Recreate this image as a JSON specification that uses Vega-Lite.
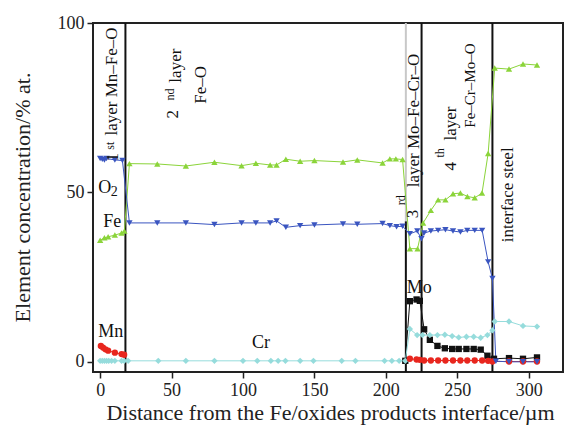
{
  "$schema": "https://vega.github.io/schema/vega-lite/v6.json",
  "width": 470,
  "height": 349,
  "autosize": {"type": "none"},
  "padding": {"left": 93, "top": 23, "right": 4, "bottom": 53},
  "background": "white",
  "view": {"stroke": "#222", "strokeWidth": 2},
  "config": {
    "font": "Liberation Serif",
    "axis": {"domain": false, "grid": false, "tickColor": "#222", "tickWidth": 1.5, "tickSize": 6, "labelColor": "#222", "labelFont": "Liberation Serif", "labelFontSize": 18, "titleFont": "Liberation Serif", "titleFontWeight": "normal", "titleColor": "#222", "titleFontSize": 22},
    "text": {"font": "Liberation Serif", "color": "#111"}
  },
  "layer": [
    {
      "data": {"values": [
        {"x": 17.7, "lo": -3, "hi": 100},
        {"x": 214, "lo": -3, "hi": 41.5},
        {"x": 225, "lo": -3, "hi": 100},
        {"x": 274.6, "lo": -3, "hi": 100}
      ]},
      "mark": {"type": "rule", "color": "#111", "strokeWidth": 2},
      "encoding": {
        "x": {"field": "x", "type": "quantitative", "scale": {"domain": [-5, 324], "nice": false, "zero": false},
          "axis": {"values": [0, 50, 100, 150, 200, 250, 300], "title": "Distance from the Fe/oxides products interface/µm", "labelPadding": 3, "titleFontSize": 22, "titleX": 237, "titleY": 40, "titleBaseline": "middle"}},
        "y": {"field": "lo", "type": "quantitative", "scale": {"domain": [-3, 100], "nice": false, "zero": false},
          "axis": {"values": [0, 50, 100], "title": "Element concentration/% at.", "labelPadding": 3, "titleX": -71, "titleY": 174, "titleBaseline": "middle"}},
        "y2": {"field": "hi"}
      }
    },
    {
      "data": {"values": [{"x": 214, "lo": 41.5, "hi": 100}]},
      "mark": {"type": "rule", "color": "#c8c8c8", "strokeWidth": 2},
      "encoding": {
        "x": {"field": "x", "type": "quantitative"},
        "y": {"field": "lo", "type": "quantitative"},
        "y2": {"field": "hi"}
      }
    },
    {
      "data": {"name": "series", "values": [
        {"el": "O2", "seg": "O2", "x": 0, "y": 35.9},
        {"el": "O2", "seg": "O2", "x": 3, "y": 36.6},
        {"el": "O2", "seg": "O2", "x": 5.6, "y": 36.9},
        {"el": "O2", "seg": "O2", "x": 10.3, "y": 37.4},
        {"el": "O2", "seg": "O2", "x": 15, "y": 38.0},
        {"el": "O2", "seg": "O2", "x": 17, "y": 38.6},
        {"el": "O2", "seg": "O2", "x": 20.5, "y": 58.5},
        {"el": "O2", "seg": "O2", "x": 40, "y": 58.4},
        {"el": "O2", "seg": "O2", "x": 60, "y": 57.8},
        {"el": "O2", "seg": "O2", "x": 80, "y": 58.9},
        {"el": "O2", "seg": "O2", "x": 99, "y": 57.9},
        {"el": "O2", "seg": "O2", "x": 109, "y": 58.6},
        {"el": "O2", "seg": "O2", "x": 119, "y": 58.1},
        {"el": "O2", "seg": "O2", "x": 123.5, "y": 58.1},
        {"el": "O2", "seg": "O2", "x": 130, "y": 59.8},
        {"el": "O2", "seg": "O2", "x": 140, "y": 59.2},
        {"el": "O2", "seg": "O2", "x": 150, "y": 59.4},
        {"el": "O2", "seg": "O2", "x": 170, "y": 59.0},
        {"el": "O2", "seg": "O2", "x": 180, "y": 59.6},
        {"el": "O2", "seg": "O2", "x": 197.7, "y": 58.7},
        {"el": "O2", "seg": "O2", "x": 202.8, "y": 59.9},
        {"el": "O2", "seg": "O2", "x": 207, "y": 59.9},
        {"el": "O2", "seg": "O2", "x": 211.7, "y": 59.7},
        {"el": "O2", "seg": "O2", "x": 216.8, "y": 33.4},
        {"el": "O2", "seg": "O2", "x": 222.2, "y": 33.4},
        {"el": "O2", "seg": "O2", "x": 226.1, "y": 41.0},
        {"el": "O2", "seg": "O2", "x": 231.5, "y": 44.7},
        {"el": "O2", "seg": "O2", "x": 236.6, "y": 47.8},
        {"el": "O2", "seg": "O2", "x": 241.7, "y": 47.8},
        {"el": "O2", "seg": "O2", "x": 247, "y": 49.6},
        {"el": "O2", "seg": "O2", "x": 252.2, "y": 49.8},
        {"el": "O2", "seg": "O2", "x": 257.1, "y": 48.8},
        {"el": "O2", "seg": "O2", "x": 262.2, "y": 48.4},
        {"el": "O2", "seg": "O2", "x": 267.3, "y": 49.8},
        {"el": "O2", "seg": "O2", "x": 271.6, "y": 61.5},
        {"el": "O2", "seg": "O2", "x": 276.2, "y": 86.7},
        {"el": "O2", "seg": "O2", "x": 286.2, "y": 86.4},
        {"el": "O2", "seg": "O2", "x": 296, "y": 87.9},
        {"el": "O2", "seg": "O2", "x": 305.8, "y": 87.6},

        {"el": "Mo", "seg": "Mo", "x": 213.6, "y": 0.3},
        {"el": "Mo", "seg": "Mo", "x": 216.8, "y": 17.9},
        {"el": "Mo", "seg": "Mo", "x": 221.5, "y": 18.4},
        {"el": "Mo", "seg": "Mo", "x": 223.8, "y": 18.0},
        {"el": "Mo", "seg": "Mo", "x": 226.8, "y": 9.6},
        {"el": "Mo", "seg": "Mo", "x": 230.8, "y": 6.5},
        {"el": "Mo", "seg": "Mo", "x": 236.1, "y": 4.7},
        {"el": "Mo", "seg": "Mo", "x": 241.3, "y": 4.0},
        {"el": "Mo", "seg": "Mo", "x": 246.4, "y": 3.8},
        {"el": "Mo", "seg": "Mo", "x": 251, "y": 3.8},
        {"el": "Mo", "seg": "Mo", "x": 256.4, "y": 3.8},
        {"el": "Mo", "seg": "Mo", "x": 261.5, "y": 3.8},
        {"el": "Mo", "seg": "Mo", "x": 266.4, "y": 3.6},
        {"el": "Mo", "seg": "Mo", "x": 271.1, "y": 1.8},
        {"el": "Mo", "seg": "Mo", "x": 275.7, "y": 0.9},
        {"el": "Mo", "seg": "Mo", "x": 286.2, "y": 1.1},
        {"el": "Mo", "seg": "Mo", "x": 296, "y": 0.9},
        {"el": "Mo", "seg": "Mo", "x": 305.8, "y": 1.3},

        {"el": "Cr", "seg": "Cr", "x": 0, "y": 0.3},
        {"el": "Cr", "seg": "Cr", "x": 1.5, "y": 0.3},
        {"el": "Cr", "seg": "Cr", "x": 3, "y": 0.3},
        {"el": "Cr", "seg": "Cr", "x": 4.5, "y": 0.3},
        {"el": "Cr", "seg": "Cr", "x": 6, "y": 0.3},
        {"el": "Cr", "seg": "Cr", "x": 8, "y": 0.3},
        {"el": "Cr", "seg": "Cr", "x": 10.3, "y": 0.3},
        {"el": "Cr", "seg": "Cr", "x": 15, "y": 0.3},
        {"el": "Cr", "seg": "Cr", "x": 16.8, "y": 0.3},
        {"el": "Cr", "seg": "Cr", "x": 19.6, "y": 0.3},
        {"el": "Cr", "seg": "Cr", "x": 40.7, "y": 0.3},
        {"el": "Cr", "seg": "Cr", "x": 60, "y": 0.3},
        {"el": "Cr", "seg": "Cr", "x": 80, "y": 0.3},
        {"el": "Cr", "seg": "Cr", "x": 100, "y": 0.3},
        {"el": "Cr", "seg": "Cr", "x": 110, "y": 0.3},
        {"el": "Cr", "seg": "Cr", "x": 119.5, "y": 0.3},
        {"el": "Cr", "seg": "Cr", "x": 124.6, "y": 0.3},
        {"el": "Cr", "seg": "Cr", "x": 129.7, "y": 0.3},
        {"el": "Cr", "seg": "Cr", "x": 140, "y": 0.3},
        {"el": "Cr", "seg": "Cr", "x": 149.3, "y": 0.3},
        {"el": "Cr", "seg": "Cr", "x": 169.1, "y": 0.3},
        {"el": "Cr", "seg": "Cr", "x": 178.7, "y": 0.3},
        {"el": "Cr", "seg": "Cr", "x": 199.1, "y": 0.3},
        {"el": "Cr", "seg": "Cr", "x": 204.2, "y": 0.3},
        {"el": "Cr", "seg": "Cr", "x": 209.3, "y": 0.3},
        {"el": "Cr", "seg": "Cr", "x": 213.6, "y": 0.3},
        {"el": "Cr", "seg": "Cr", "x": 216.8, "y": 9.7},
        {"el": "Cr", "seg": "Cr", "x": 221.9, "y": 7.9},
        {"el": "Cr", "seg": "Cr", "x": 225.6, "y": 7.9},
        {"el": "Cr", "seg": "Cr", "x": 230.8, "y": 7.9},
        {"el": "Cr", "seg": "Cr", "x": 236.1, "y": 7.9},
        {"el": "Cr", "seg": "Cr", "x": 241.3, "y": 8.0},
        {"el": "Cr", "seg": "Cr", "x": 246.4, "y": 7.6},
        {"el": "Cr", "seg": "Cr", "x": 251, "y": 7.2},
        {"el": "Cr", "seg": "Cr", "x": 256.4, "y": 7.4},
        {"el": "Cr", "seg": "Cr", "x": 261.5, "y": 7.4},
        {"el": "Cr", "seg": "Cr", "x": 266.4, "y": 7.1},
        {"el": "Cr", "seg": "Cr", "x": 271.1, "y": 7.9},
        {"el": "Cr", "seg": "Cr", "x": 274.6, "y": 9.3},
        {"el": "Cr", "seg": "Cr", "x": 276.2, "y": 11.9},
        {"el": "Cr", "seg": "Cr", "x": 286.2, "y": 11.9},
        {"el": "Cr", "seg": "Cr", "x": 296, "y": 10.6},
        {"el": "Cr", "seg": "Cr", "x": 305.8, "y": 10.4},

        {"el": "Mn", "seg": "Mn1", "x": 0.5, "y": 4.7},
        {"el": "Mn", "seg": "Mn1", "x": 2, "y": 4.2},
        {"el": "Mn", "seg": "Mn1", "x": 3.7, "y": 3.7},
        {"el": "Mn", "seg": "Mn1", "x": 5.6, "y": 3.3},
        {"el": "Mn", "seg": "Mn1", "x": 10.3, "y": 2.7},
        {"el": "Mn", "seg": "Mn1", "x": 15, "y": 2.3},
        {"el": "Mn", "seg": "Mn1", "x": 16.8, "y": 2.1},
        {"el": "Mn", "seg": "Mn2", "x": 216.8, "y": 0.9},
        {"el": "Mn", "seg": "Mn2", "x": 221.5, "y": 0.7},
        {"el": "Mn", "seg": "Mn2", "x": 223.8, "y": 0.6},
        {"el": "Mn", "seg": "Mn2", "x": 226.8, "y": 0.4},
        {"el": "Mn", "seg": "Mn2", "x": 231.5, "y": 0.4},
        {"el": "Mn", "seg": "Mn2", "x": 236.6, "y": 0.4},
        {"el": "Mn", "seg": "Mn2", "x": 241.7, "y": 0.4},
        {"el": "Mn", "seg": "Mn2", "x": 247, "y": 0.4},
        {"el": "Mn", "seg": "Mn2", "x": 252.2, "y": 0.4},
        {"el": "Mn", "seg": "Mn2", "x": 257, "y": 0.4},
        {"el": "Mn", "seg": "Mn2", "x": 262.2, "y": 0.4},
        {"el": "Mn", "seg": "Mn2", "x": 267.4, "y": 0.4},
        {"el": "Mn", "seg": "Mn2", "x": 271.6, "y": 0.3},
        {"el": "Mn", "seg": "Mn2", "x": 274.6, "y": 0.1},
        {"el": "Mn", "seg": "Mn2", "x": 286.2, "y": 0.1},
        {"el": "Mn", "seg": "Mn2", "x": 296, "y": 0.1},
        {"el": "Mn", "seg": "Mn2", "x": 305.8, "y": 0.1},

        {"el": "Fe", "seg": "Fe", "x": 0, "y": 60.0},
        {"el": "Fe", "seg": "Fe", "x": 1.5, "y": 59.8},
        {"el": "Fe", "seg": "Fe", "x": 3, "y": 59.6},
        {"el": "Fe", "seg": "Fe", "x": 4.5, "y": 60.0},
        {"el": "Fe", "seg": "Fe", "x": 10.3, "y": 59.6},
        {"el": "Fe", "seg": "Fe", "x": 15.6, "y": 59.4},
        {"el": "Fe", "seg": "Fe", "x": 20.5, "y": 41.0},
        {"el": "Fe", "seg": "Fe", "x": 40, "y": 41.0},
        {"el": "Fe", "seg": "Fe", "x": 60, "y": 41.0},
        {"el": "Fe", "seg": "Fe", "x": 80, "y": 40.5},
        {"el": "Fe", "seg": "Fe", "x": 99, "y": 41.0},
        {"el": "Fe", "seg": "Fe", "x": 109, "y": 41.0},
        {"el": "Fe", "seg": "Fe", "x": 119, "y": 41.0},
        {"el": "Fe", "seg": "Fe", "x": 123.5, "y": 41.6},
        {"el": "Fe", "seg": "Fe", "x": 130, "y": 39.7},
        {"el": "Fe", "seg": "Fe", "x": 140, "y": 40.2},
        {"el": "Fe", "seg": "Fe", "x": 150, "y": 40.4},
        {"el": "Fe", "seg": "Fe", "x": 170, "y": 40.7},
        {"el": "Fe", "seg": "Fe", "x": 180, "y": 40.6},
        {"el": "Fe", "seg": "Fe", "x": 197.7, "y": 40.8},
        {"el": "Fe", "seg": "Fe", "x": 202.8, "y": 40.2},
        {"el": "Fe", "seg": "Fe", "x": 207.5, "y": 39.9},
        {"el": "Fe", "seg": "Fe", "x": 211.7, "y": 40.0},
        {"el": "Fe", "seg": "Fe", "x": 216.8, "y": 37.8},
        {"el": "Fe", "seg": "Fe", "x": 222, "y": 38.6},
        {"el": "Fe", "seg": "Fe", "x": 224.9, "y": 36.3},
        {"el": "Fe", "seg": "Fe", "x": 226.8, "y": 38.0},
        {"el": "Fe", "seg": "Fe", "x": 231.5, "y": 38.6},
        {"el": "Fe", "seg": "Fe", "x": 236.6, "y": 38.8},
        {"el": "Fe", "seg": "Fe", "x": 241.7, "y": 39.0},
        {"el": "Fe", "seg": "Fe", "x": 247, "y": 38.6},
        {"el": "Fe", "seg": "Fe", "x": 252.2, "y": 38.3},
        {"el": "Fe", "seg": "Fe", "x": 257, "y": 38.8},
        {"el": "Fe", "seg": "Fe", "x": 262.2, "y": 38.8},
        {"el": "Fe", "seg": "Fe", "x": 267.4, "y": 38.8},
        {"el": "Fe", "seg": "Fe", "x": 271.6, "y": 29.5},
        {"el": "Fe", "seg": "Fe", "x": 274.6, "y": 24.6},
        {"el": "Fe", "seg": "Fe", "x": 277, "y": 0.2},
        {"el": "Fe", "seg": "Fe", "x": 286.2, "y": 0},
        {"el": "Fe", "seg": "Fe", "x": 296, "y": 0},
        {"el": "Fe", "seg": "Fe", "x": 305.8, "y": 0}
      ]},
      "layer": [
        {
          "mark": {"type": "line", "strokeWidth": 1},
          "encoding": {
            "x": {"field": "x", "type": "quantitative"},
            "y": {"field": "y", "type": "quantitative"},
            "color": {"field": "el", "type": "nominal", "scale": {"domain": ["O2", "Fe", "Mn", "Cr", "Mo"], "range": ["#8bd43a", "#3a55c0", "#e8261e", "#96dcdc", "#111111"]}, "legend": null},
            "detail": {"field": "seg", "type": "nominal"},
            "order": {"field": "x", "type": "quantitative"}
          }
        },
        {
          "mark": {"type": "point", "filled": true, "opacity": 1, "strokeWidth": 0},
          "encoding": {
            "x": {"field": "x", "type": "quantitative"},
            "y": {"field": "y", "type": "quantitative"},
            "color": {"field": "el", "type": "nominal", "legend": null},
            "shape": {"field": "el", "type": "nominal", "scale": {"domain": ["O2", "Fe", "Mn", "Cr", "Mo"], "range": ["triangle-up", "triangle-down", "circle", "diamond", "square"]}, "legend": null},
            "size": {"field": "el", "type": "nominal", "scale": {"domain": ["O2", "Fe", "Mn", "Cr", "Mo"], "range": [40, 40, 24, 38, 24]}, "legend": null}
          }
        }
      ]
    },
    {
      "data": {"values": [
        {"x": -1.4, "y": 49.7, "t": "O"},
        {"x": 2.1, "y": 39.7, "t": "Fe"},
        {"x": -1.4, "y": 7.4, "t": "Mn"},
        {"x": 106.3, "y": 4.1, "t": "Cr"},
        {"x": 214.7, "y": 20.3, "t": "Mo"}
      ]},
      "mark": {"type": "text", "fontSize": 18, "align": "left", "baseline": "alphabetic"},
      "encoding": {
        "x": {"field": "x", "type": "quantitative"},
        "y": {"field": "y", "type": "quantitative"},
        "text": {"field": "t"}
      }
    },
    {
      "data": {"values": [{"x": 7.4, "y": 48.8, "t": "2"}]},
      "mark": {"type": "text", "fontSize": 14, "align": "left", "baseline": "alphabetic"},
      "encoding": {
        "x": {"field": "x", "type": "quantitative"},
        "y": {"field": "y", "type": "quantitative"},
        "text": {"field": "t"}
      }
    },
    {
      "data": {"values": [
        {"x": 9.1, "y": 59.1, "t": "1"},
        {"x": 8.4, "y": 66.8, "t": "layer Mn–Fe–O"},
        {"x": 51.0, "y": 71.8, "t": "2"},
        {"x": 53.1, "y": 82.4, "t": "layer"},
        {"x": 70.6, "y": 76.2, "t": "Fe–O"},
        {"x": 218.9, "y": 42.4, "t": "3"},
        {"x": 219.6, "y": 51.5, "t": "layer Mo–Fe–Cr–O"},
        {"x": 245.5, "y": 56.5, "t": "4"},
        {"x": 245.5, "y": 65.3, "t": "layer"},
        {"x": 285.3, "y": 35.3, "t": "interface steel"}
      ]},
      "mark": {"type": "text", "fontSize": 17, "angle": 270, "align": "left", "baseline": "middle"},
      "encoding": {
        "x": {"field": "x", "type": "quantitative"},
        "y": {"field": "y", "type": "quantitative"},
        "text": {"field": "t"}
      }
    },
    {
      "data": {"values": [{"x": 258.7, "y": 69.1, "t": "Fe–Cr–Mo–O"}]},
      "mark": {"type": "text", "fontSize": 15, "angle": 270, "align": "left", "baseline": "middle"},
      "encoding": {
        "x": {"field": "x", "type": "quantitative"},
        "y": {"field": "y", "type": "quantitative"},
        "text": {"field": "t"}
      }
    },
    {
      "data": {"values": [
        {"x": 7.0, "y": 62.6, "t": "st"},
        {"x": 49.0, "y": 77.1, "t": "nd"},
        {"x": 210.5, "y": 46.2, "t": "rd"},
        {"x": 237.8, "y": 60.3, "t": "th"}
      ]},
      "mark": {"type": "text", "fontSize": 12, "angle": 270, "align": "left", "baseline": "middle"},
      "encoding": {
        "x": {"field": "x", "type": "quantitative"},
        "y": {"field": "y", "type": "quantitative"},
        "text": {"field": "t"}
      }
    }
  ]
}
